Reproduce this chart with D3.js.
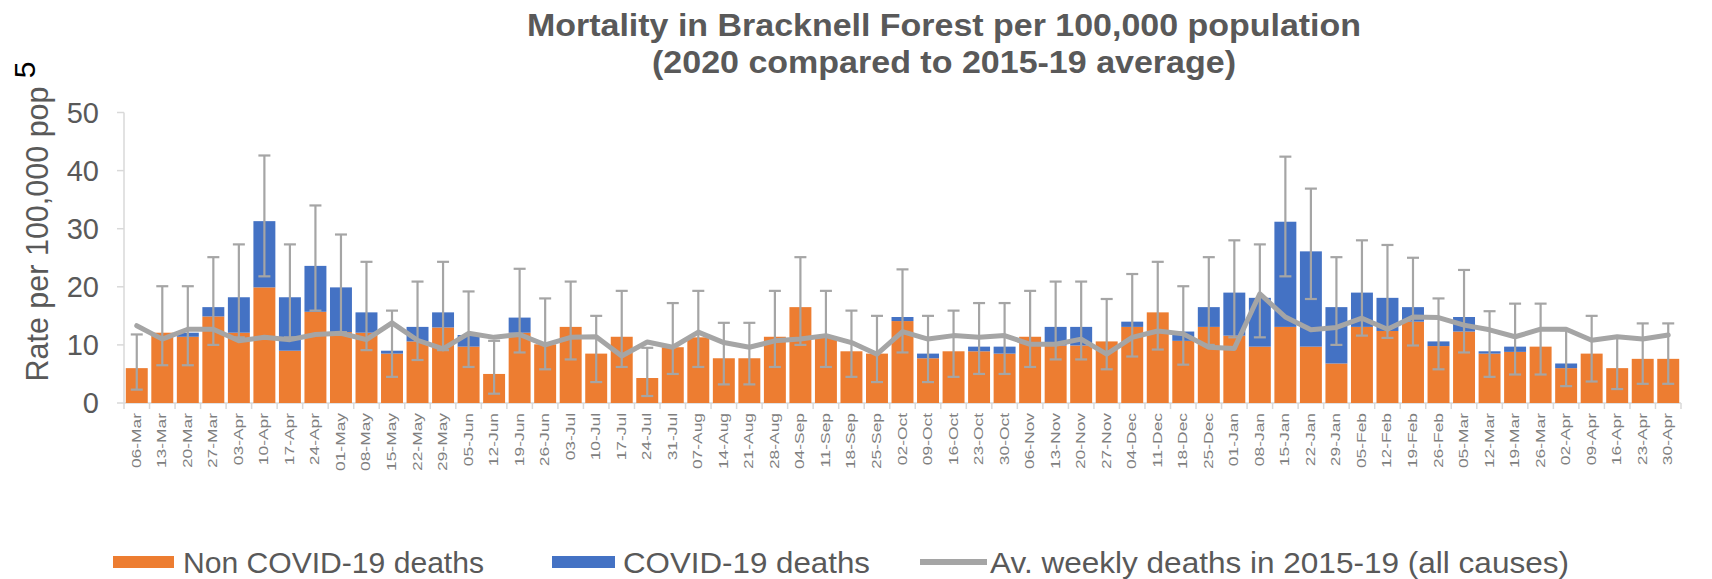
<!DOCTYPE html>
<html>
<head>
<meta charset="utf-8">
<script src="https://cdn.jsdelivr.net/npm/d3@7"></script>
<style>
  body { margin: 0; background: #fff; }
  svg { display: block; font-family: "Liberation Sans", Arial, sans-serif; }
</style>
</head>
<body>
<div id="chart"></div>
<script>
// week ending dates, Mar 2020 - Apr 2021
const weeks = [
  "06-Mar","13-Mar","20-Mar","27-Mar","03-Apr","10-Apr","17-Apr","24-Apr","01-May","08-May",
  "15-May","22-May","29-May","05-Jun","12-Jun","19-Jun","26-Jun","03-Jul","10-Jul","17-Jul",
  "24-Jul","31-Jul","07-Aug","14-Aug","21-Aug","28-Aug","04-Sep","11-Sep","18-Sep","25-Sep",
  "02-Oct","09-Oct","16-Oct","23-Oct","30-Oct","06-Nov","13-Nov","20-Nov","27-Nov","04-Dec",
  "11-Dec","18-Dec","25-Dec","01-Jan","08-Jan","15-Jan","22-Jan","29-Jan","05-Feb","12-Feb",
  "19-Feb","26-Feb","05-Mar","12-Mar","19-Mar","26-Mar","02-Apr","09-Apr","16-Apr","23-Apr",
  "30-Apr"
];

const nonCovid = [
  6.0, 12.1, 11.4, 14.9, 12.1, 19.9, 9.0, 15.7, 12.2, 12.1,
  8.5, 10.6, 13.0, 9.7, 5.0, 12.1, 10.1, 13.1, 8.5, 11.4,
  4.3, 9.6, 11.3, 7.7, 7.7, 11.4, 16.5, 11.4, 8.9, 8.5,
  14.1, 7.7, 8.9, 8.9, 8.5, 11.4, 9.9, 9.9, 10.6, 13.1,
  15.6, 10.7, 13.1, 11.6, 9.7, 13.1, 9.7, 6.8, 13.1, 12.4,
  14.0, 9.8, 12.3, 8.5, 8.8, 9.7, 6.0, 8.5, 6.0, 7.6,
  7.6
];

const covid = [
  0, 0, 0.7, 1.6, 6.1, 11.4, 9.2, 7.9, 7.7, 3.5,
  0.5, 2.5, 2.6, 2.0, 0, 2.6, 0, 0, 0, 0,
  0, 0, 0, 0, 0, 0, 0, 0, 0, 0,
  0.7, 0.8, 0, 0.8, 1.2, 0, 3.2, 3.2, 0, 0.9,
  0, 1.6, 3.4, 7.4, 8.4, 18.1, 16.4, 9.7, 5.9, 5.7,
  2.5, 0.8, 2.5, 0.4, 0.9, 0, 0.8, 0, 0, 0,
  0
];

// confidence interval on all deaths
const ciLow = [
  2.3, 6.5, 6.5, 10.0, 11.3, 21.8, 11.3, 15.9, 12.2, 9.1,
  4.5, 7.4, 9.1, 6.2, 1.6, 8.7, 5.8, 7.5, 3.6, 6.2,
  1.2, 5.0, 6.2, 3.2, 3.2, 6.2, 10.0, 6.2, 4.5, 3.6,
  8.7, 3.6, 4.5, 5.0, 5.0, 6.2, 7.5, 7.5, 5.8, 8.0,
  9.2, 6.6, 10.0, 11.3, 11.3, 21.8, 17.9, 10.0, 11.6, 11.2,
  9.9, 5.8, 8.7, 4.5, 4.9, 4.9, 2.9, 3.7, 2.4, 3.3,
  3.3
];
const ciHigh = [
  11.8, 20.1, 20.1, 25.1, 27.3, 42.6, 27.3, 34.0, 29.0, 24.3,
  15.9, 20.9, 24.3, 19.2, 10.7, 23.1, 18.0, 20.9, 15.0, 19.3,
  9.5, 17.2, 19.3, 13.8, 13.8, 19.3, 25.1, 19.3, 15.9, 15.0,
  23.0, 15.0, 15.9, 17.2, 17.2, 19.3, 20.9, 20.9, 17.9, 22.2,
  24.3, 20.1, 25.1, 28.0, 27.3, 42.4, 36.9, 25.1, 28.0, 27.2,
  25.0, 18.0, 22.9, 15.8, 17.1, 17.1, 12.5, 15.0, 11.2, 13.7,
  13.7
];

const avg1519 = [
  13.3, 11.0, 12.7, 12.7, 10.7, 11.3, 10.9, 11.8, 12.0, 10.9,
  13.8, 10.8, 9.3, 12.0, 11.3, 11.8, 10.0, 11.3, 11.4, 8.1,
  10.5, 9.6, 12.2, 10.4, 9.6, 10.7, 11.0, 11.6, 10.4, 8.4,
  12.3, 11.0, 11.6, 11.3, 11.6, 10.1, 10.1, 11.0, 8.4, 11.3,
  12.4, 11.9, 9.6, 9.4, 18.8, 14.8, 12.6, 13.0, 14.6, 12.7,
  14.8, 14.7, 13.4, 12.6, 11.4, 12.7, 12.7, 10.8, 11.4, 11.0,
  11.7
];

const yTicks = [0, 10, 20, 30, 40, 50];

const width = 1712, height = 579;
const colOrange = "#ED7D31", colBlue = "#4472C4", colGrey = "#A5A5A5";
const textCol = "#595959", axisCol = "#D9D9D9";

const svg = d3.select("#chart").append("svg")
  .attr("width", width)
  .attr("height", height);

svg.append("rect").attr("width", width).attr("height", height).attr("fill", "#fff");

const x = d3.scaleBand()
  .domain(weeks)
  .range([124, 1681])
  .paddingInner(0.14)
  .paddingOuter(0.07);

const y = d3.scaleLinear().domain([0, 50]).range([403, 112.5]);

// axes
svg.append("line")
  .attr("x1", 124).attr("x2", 124)
  .attr("y1", y(0)).attr("y2", y(50))
  .attr("stroke", axisCol).attr("stroke-width", 1.5);

svg.selectAll(".ytick")
  .data(yTicks)
  .enter().append("line")
  .attr("x1", 117).attr("x2", 124)
  .attr("y1", d => y(d)).attr("y2", d => y(d))
  .attr("stroke", axisCol).attr("stroke-width", 1.5);

svg.selectAll(".ylab")
  .data(yTicks)
  .enter().append("text")
  .attr("x", 99)
  .attr("y", d => y(d))
  .attr("dy", "0.36em")
  .attr("text-anchor", "end")
  .attr("font-size", "29px")
  .attr("fill", textCol)
  .text(d => d);

svg.append("line")
  .attr("x1", 124).attr("x2", 1681)
  .attr("y1", y(0)).attr("y2", y(0))
  .attr("stroke", axisCol).attr("stroke-width", 1.5);

const step = x.step();
svg.selectAll(".xtick")
  .data(d3.range(weeks.length + 1))
  .enter().append("line")
  .attr("x1", i => 124 + i * step).attr("x2", i => 124 + i * step)
  .attr("y1", y(0)).attr("y2", y(0) + 6)
  .attr("stroke", axisCol).attr("stroke-width", 1.5);

svg.selectAll(".xlab")
  .data(weeks)
  .enter().append("text")
  .attr("transform", d => `translate(${x(d) + x.bandwidth() / 2 + 4}, 413) rotate(-90) scale(1.45, 1)`)
  .attr("text-anchor", "end")
  .attr("font-size", "12px")
  .attr("fill", "#7f7f7f")
  .text(d => d);

// stacked bars
svg.selectAll(".bar-non")
  .data(weeks)
  .enter().append("rect")
  .attr("x", d => x(d))
  .attr("width", x.bandwidth())
  .attr("y", (d, i) => y(nonCovid[i]))
  .attr("height", (d, i) => y(0) - y(nonCovid[i]))
  .attr("fill", colOrange);

svg.selectAll(".bar-cov")
  .data(weeks)
  .enter().append("rect")
  .attr("x", d => x(d))
  .attr("width", x.bandwidth())
  .attr("y", (d, i) => y(nonCovid[i] + covid[i]))
  .attr("height", (d, i) => y(nonCovid[i]) - y(nonCovid[i] + covid[i]))
  .attr("fill", colBlue);

// error bars
const err = svg.append("g")
  .attr("stroke", colGrey)
  .attr("stroke-width", 2.2);

weeks.forEach((w, i) => {
  const cx = x(w) + x.bandwidth() / 2;
  err.append("line").attr("x1", cx).attr("x2", cx)
    .attr("y1", y(ciLow[i])).attr("y2", y(ciHigh[i]));
  [ciLow[i], ciHigh[i]].forEach(v => {
    err.append("line").attr("x1", cx - 6).attr("x2", cx + 6)
      .attr("y1", y(v)).attr("y2", y(v));
  });
});

// 2015-19 average line
const line = d3.line()
  .x((d, i) => x(weeks[i]) + x.bandwidth() / 2)
  .y(d => y(d));

svg.append("path")
  .datum(avg1519)
  .attr("d", line)
  .attr("fill", "none")
  .attr("stroke", colGrey)
  .attr("stroke-width", 5)
  .attr("stroke-linejoin", "round")
  .attr("stroke-linecap", "round");

// titles
const title = svg.append("text")
  .attr("text-anchor", "middle")
  .attr("font-size", "32px")
  .attr("font-weight", "bold")
  .attr("fill", textCol);
title.append("tspan").attr("x", 944).attr("y", 36)
  .attr("textLength", 834).attr("lengthAdjust", "spacingAndGlyphs")
  .text("Mortality in Bracknell Forest per 100,000 population");
title.append("tspan").attr("x", 944).attr("y", 73)
  .attr("textLength", 584).attr("lengthAdjust", "spacingAndGlyphs")
  .text("(2020 compared to 2015-19 average)");

svg.append("text")
  .attr("transform", "translate(48, 234) rotate(-90)")
  .attr("text-anchor", "middle")
  .attr("font-size", "30.5px")
  .attr("fill", textCol)
  .text("Rate per 100,000 pop");

svg.append("text")
  .attr("transform", "translate(35, 70) rotate(-90)")
  .attr("text-anchor", "middle")
  .attr("font-size", "30px")
  .attr("fill", "#000")
  .text("5");

// legend
const legend = svg.append("g").attr("font-size", "30px").attr("fill", textCol);
const ly = 562;
legend.append("rect").attr("x", 113).attr("y", ly - 6).attr("width", 61).attr("height", 12).attr("fill", colOrange);
legend.append("text").attr("x", 183).attr("y", ly).attr("dy", "0.36em")
  .attr("textLength", 301).attr("lengthAdjust", "spacingAndGlyphs")
  .text("Non COVID-19 deaths");
legend.append("rect").attr("x", 552).attr("y", ly - 6).attr("width", 63).attr("height", 12).attr("fill", colBlue);
legend.append("text").attr("x", 623).attr("y", ly).attr("dy", "0.36em")
  .attr("textLength", 247).attr("lengthAdjust", "spacingAndGlyphs")
  .text("COVID-19 deaths");
legend.append("line").attr("x1", 920).attr("x2", 987).attr("y1", ly).attr("y2", ly)
  .attr("stroke", colGrey).attr("stroke-width", 6);
legend.append("text").attr("x", 990).attr("y", ly).attr("dy", "0.36em")
  .attr("textLength", 579).attr("lengthAdjust", "spacingAndGlyphs")
  .text("Av. weekly deaths in 2015-19 (all causes)");
</script>
</body>
</html>
